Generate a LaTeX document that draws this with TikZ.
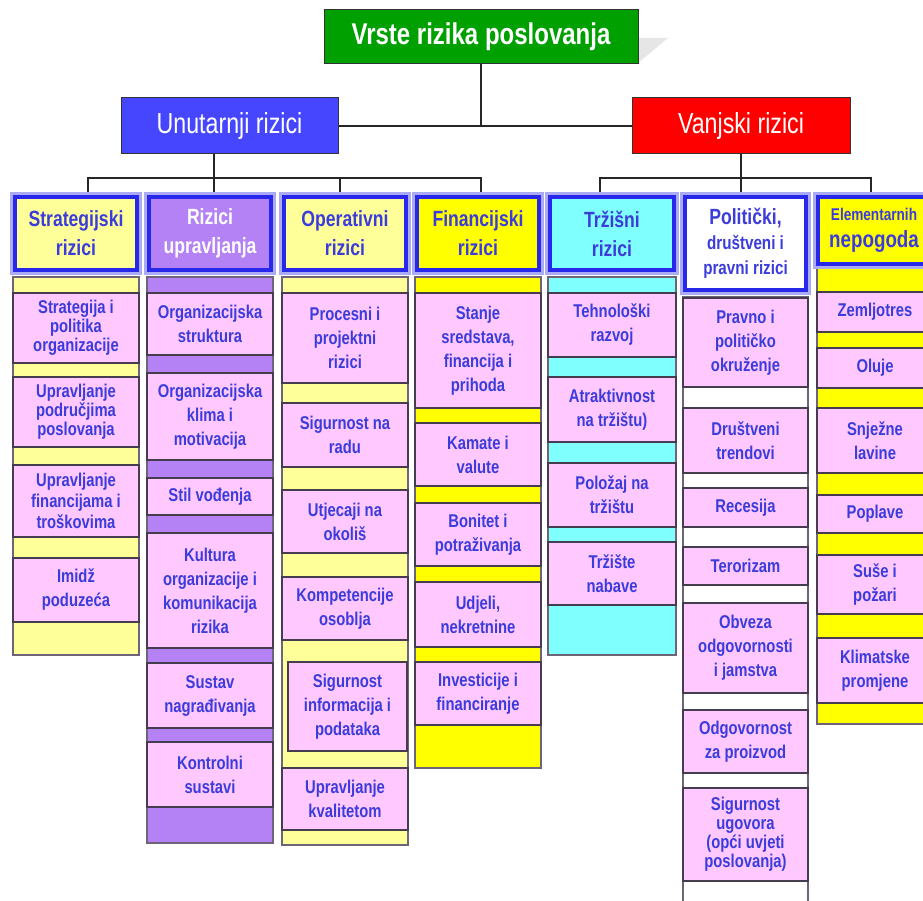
\documentclass[tikz,border=0pt]{standalone}
\usepackage{fontspec}
\setmainfont{Liberation Sans}[FakeStretch=0.8]
\usetikzlibrary{calc}
\definecolor{tgreen}{RGB}{0,160,0}
\definecolor{tbluebox}{RGB}{70,70,255}
\definecolor{tred}{RGB}{255,0,0}
\definecolor{pyel}{RGB}{255,255,153}
\definecolor{byel}{RGB}{255,255,0}
\definecolor{purp}{RGB}{180,130,245}
\definecolor{tcyan}{RGB}{128,255,255}
\definecolor{tpink}{RGB}{255,200,255}
\definecolor{tblue}{RGB}{60,60,220}
\definecolor{hblue}{RGB}{40,40,235}
\definecolor{hlav}{RGB}{170,170,245}
\definecolor{itemborder}{RGB}{70,60,80}
\definecolor{colborder}{RGB}{110,100,120}
\definecolor{shadowgray}{RGB}{230,230,230}
\pgfdeclarelayer{bg}
\pgfsetlayers{bg,main}
\newcommand\bx[7]{\node[#2, minimum width={#4-#3}, minimum height={#6-#5}] (#1) at ({(#3+#4)/2},{(#5+#6)/2}) {#7};}
\begin{document}
\begin{tikzpicture}[x=1pt,y=-1pt,
  conn/.style={draw=black!85, line width=1.6pt},
  topbox/.style={draw=black!80, line width=1pt, inner sep=0pt, outer sep=0pt, text=white, align=center},
  item/.style={draw=itemborder, line width=1.3pt, fill=tpink, text=tblue, font=\bfseries\fontsize{18.5}{24}\selectfont, align=center, inner sep=0pt, outer sep=0pt},
  tight/.style={font=\bfseries\fontsize{18.5}{19}\selectfont},
  mid/.style={font=\bfseries\fontsize{18.5}{21}\selectfont},
  colbg/.style={draw=colborder, line width=1.5pt, inner sep=0pt, outer sep=0pt},
  hdr/.style={draw=hblue, line width=3.5pt, preaction={draw=hlav, line width=10pt}, text=tblue, font=\bfseries\fontsize{22}{29}\selectfont, align=center, inner sep=0pt, outer sep=0pt}]
\clip (0,0) rectangle (923,901);

% top level
\fill[shadowgray] (638,38) -- (668,38) -- (638,63) -- cycle;
\bx{title}{topbox, fill=tgreen, font=\bfseries\fontsize{30}{32}\selectfont}{324}{638}{10}{64}{Vrste rizika poslovanja}
\bx{unut}{topbox, fill=tbluebox, font=\fontsize{29}{30}\selectfont}{121}{338}{98}{154}{Unutarnji rizici}
\bx{vanj}{topbox, fill=tred, font=\fontsize{29}{30}\selectfont}{632}{850}{98}{154}{Vanjski rizici}

% column 1
\bx{c1}{colbg,fill=pyel}{13}{139}{277}{655}{}
\bx{a11}{item,tight}{13}{139}{293}{363}{Strategija i\\politika\\organizacije}
\bx{a12}{item,tight}{13}{139}{377}{447}{Upravljanje\\područjima\\poslovanja}
\bx{a13}{item,mid}{13}{139}{465}{537}{Upravljanje\\financijama i\\troškovima}
\bx{a14}{item}{13}{139}{558}{622}{Imidž\\poduzeća}
\bx{h1}{hdr,fill=pyel}{15}{137}{197}{270}{Strategijski\\rizici}

% column 2
\bx{c2}{colbg,fill=purp}{147}{273}{277}{843}{}
\bx{a21}{item}{147}{273}{293}{355}{Organizacijska\\struktura}
\bx{a22}{item}{147}{273}{373}{460}{Organizacijska\\klima i\\motivacija}
\bx{a23}{item}{147}{273}{478}{515}{Stil vođenja}
\bx{a24}{item}{147}{273}{533}{648}{Kultura\\organizacije i\\komunikacija\\rizika}
\bx{a25}{item}{147}{273}{663}{728}{Sustav\\nagrađivanja}
\bx{a26}{item}{147}{273}{742}{807}{Kontrolni\\sustavi}
\bx{h2}{hdr,fill=purp,text=white}{149}{271}{197}{270}{Rizici\\upravljanja}

% column 3
\bx{c3}{colbg,fill=pyel}{282}{408}{277}{845}{}
\bx{a31}{item}{282}{408}{293}{383}{Procesni i\\projektni\\rizici}
\bx{a32}{item}{282}{408}{403}{467}{Sigurnost na\\radu}
\bx{a33}{item}{282}{408}{490}{553}{Utjecaji na\\okoliš}
\bx{a34}{item}{282}{408}{577}{640}{Kompetencije\\osoblja}
\bx{a35}{item}{288}{407}{662}{751}{Sigurnost\\informacija i\\podataka}
\bx{a36}{item}{282}{408}{768}{830}{Upravljanje\\kvalitetom}
\bx{h3}{hdr,fill=pyel}{284}{406}{197}{270}{Operativni\\rizici}

% column 4
\bx{c4}{colbg,fill=byel}{415}{541}{277}{768}{}
\bx{a41}{item}{415}{541}{293}{408}{Stanje\\sredstava,\\financija i\\prihoda}
\bx{a42}{item}{415}{541}{423}{486}{Kamate i\\valute}
\bx{a43}{item}{415}{541}{503}{566}{Bonitet i\\potraživanja}
\bx{a44}{item}{415}{541}{582}{647}{Udjeli,\\nekretnine}
\bx{a45}{item}{415}{541}{662}{725}{Investicije i\\financiranje}
\bx{h4}{hdr,fill=byel}{417}{539}{197}{270}{Financijski\\rizici}

% column 5
\bx{c5}{colbg,fill=tcyan}{548}{676}{277}{655}{}
\bx{a51}{item}{548}{676}{293}{357}{Tehnološki\\razvoj}
\bx{a52}{item}{548}{676}{377}{442}{Atraktivnost\\na tržištu)}
\bx{a53}{item}{548}{676}{463}{527}{Položaj na\\tržištu}
\bx{a54}{item}{548}{676}{542}{605}{Tržište\\nabave}
\bx{h5}{hdr,fill=tcyan}{550}{674}{197}{270}{Tržišni\\rizici}

% column 6
\bx{c6}{colbg,fill=white}{683}{808}{297}{915}{}
\bx{a61}{item}{683}{808}{298}{387}{Pravno i\\političko\\okruženje}
\bx{a62}{item}{683}{808}{408}{473}{Društveni\\trendovi}
\bx{a63}{item}{683}{808}{488}{527}{Recesija}
\bx{a64}{item}{683}{808}{547}{585}{Terorizam}
\bx{a65}{item}{683}{808}{603}{693}{Obveza\\odgovornosti\\i jamstva}
\bx{a66}{item}{683}{808}{710}{773}{Odgovornost\\za proizvod}
\bx{a67}{item,tight}{683}{808}{788}{881}{Sigurnost\\ugovora\\(opći uvjeti\\poslovanja)}
\bx{h6}{hdr,fill=white,font=\bfseries\fontsize{19}{25}\selectfont}{685}{806}{197}{290}{{\fontsize{22}{27}\selectfont Politički,}\\društveni i\\pravni rizici}

% column 7
\bx{c7}{colbg,fill=byel}{817}{933}{267}{724}{}
\bx{a71}{item}{817}{933}{292}{332}{Zemljotres}
\bx{a72}{item}{817}{933}{348}{388}{Oluje}
\bx{a73}{item}{817}{933}{408}{473}{Snježne\\lavine}
\bx{a74}{item}{817}{933}{495}{533}{Poplave}
\bx{a75}{item}{817}{933}{555}{614}{Suše i\\požari}
\bx{a76}{item}{817}{933}{638}{703}{Klimatske\\promjene}
\bx{h7}{hdr,fill=byel,font=\bfseries\fontsize{23.5}{27}\selectfont}{818}{930}{197}{264}{{\fontsize{17}{20}\selectfont Elementarnih}\\nepogoda}

% connectors
\coordinate (jL) at (214,178);
\coordinate (jR) at (741,178);
\begin{pgfonlayer}{bg}
\fill[white] (0,0) rectangle (923,901);
\draw[conn] (title.south) -- (title.south |- unut.east);
\draw[conn] (unut.east) -- (vanj.west);
\draw[conn] (214,0 |- unut.south) -- (jL);
\draw[conn] (88,0 |- h1.north) |- (481,178) -- (481,0 |- h4.north);
\draw[conn] (jL) -- (214,0 |- h2.north);
\draw[conn] (340,178) -- (340,0 |- h3.north);
\draw[conn] (vanj.south) -- (jR);
\draw[conn] (600,0 |- h5.north) |- (871,178) -- (871,0 |- h7.north);
\draw[conn] (jR) -- (741,0 |- h6.north);
\end{pgfonlayer}
\end{tikzpicture}
\end{document}
